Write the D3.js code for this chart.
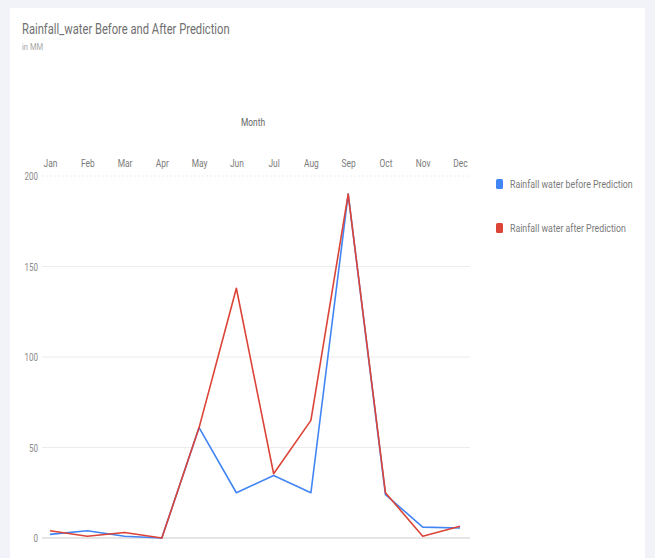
<!DOCTYPE html>
<html>
<head>
<meta charset="utf-8">
<script src="https://cdn.jsdelivr.net/npm/d3@7"></script>
<style>
  html, body { margin: 0; padding: 0; background: #f2f3f8; }
  svg { display: block; }
  text { font-family: Roboto, "Noto Sans", sans-serif; }
</style>
</head>
<body>
<svg id="chart" width="655" height="558"></svg>
<script>
// Monthly rainfall (mm) before and after prediction
const months = ["Jan","Feb","Mar","Apr","May","Jun","Jul","Aug","Sep","Oct","Nov","Dec"];
const beforePrediction = [2, 4, 1, 0, 61, 25, 34.5, 25, 190, 24, 6, 5.5];
const afterPrediction  = [4, 1, 3, 0, 61, 138, 35.5, 65, 190, 25, 1, 6.5];
const yTicks = [0, 50, 100, 150, 200];
const seriesNames = ["Rainfall water before Prediction", "Rainfall water after Prediction"];
const seriesColors = ["#4285f4", "#db4437"];

const svg = d3.select("#chart");

// white card
svg.append("rect").attr("x", 10).attr("y", 8).attr("width", 635).attr("height", 550).attr("fill", "#ffffff");

// narrow (condensed) text helper
function narrowText(g, x, y, str, size, color, anchor, sx) {
  return g.append("text")
    .attr("transform", `translate(${x},${y}) scale(${sx},1)`)
    .attr("text-anchor", anchor || "start")
    .attr("font-size", size)
    .attr("fill", color)
    .text(str);
}

narrowText(svg, 22, 34, "Rainfall_water Before and After Prediction", 14, "#707070", "start", 0.8);
narrowText(svg, 22, 50, "in MM", 9.5, "#a8a8a8", "start", 0.8);

const x = d3.scalePoint().domain(months).range([50, 460]);
const y = d3.scaleLinear().domain([0, 200]).range([538, 176]);
const left = 42, right = 470;

// gridlines
const grid = svg.append("g");
grid.selectAll("line").data(yTicks).join("line")
  .attr("x1", left).attr("x2", right)
  .attr("y1", d => y(d)).attr("y2", d => y(d))
  .attr("stroke", d => d === 0 ? "#dcdcdc" : "#ececec")
  .attr("stroke-width", d => d === 0 ? 1.5 : 1)
  .attr("stroke-dasharray", d => d === 200 ? "2,2" : null);

// y axis labels
const yAxis = d3.axisLeft(y).tickValues(yTicks).tickSize(0).tickPadding(0);
const yg = svg.append("g").attr("transform", `translate(${left - 4},0)`).call(yAxis);
yg.select(".domain").remove();
yg.selectAll("text")
  .attr("font-size", 10).attr("fill", "#8a8a8a")
  .attr("font-family", "Roboto, sans-serif")
  .attr("transform", "scale(0.8,1)")
  .attr("x", 0)
  .attr("dy", "0.35em");

// month axis at top
const xAxis = d3.axisTop(x).tickSize(0).tickPadding(0);
const xg = svg.append("g").attr("transform", "translate(0,167)").call(xAxis);
xg.select(".domain").remove();
xg.selectAll(".tick text")
  .attr("font-size", 10.5).attr("fill", "#7a7a7a")
  .attr("font-family", "Roboto, sans-serif")
  .attr("transform", "scale(0.8,1)")
  .attr("x", 0);

narrowText(svg, 253, 126, "Month", 10.5, "#666666", "middle", 0.8);

// lines
const line = d3.line().x((d, i) => x(months[i])).y(d => y(d));
[beforePrediction, afterPrediction].forEach((vals, k) => {
  svg.append("path")
    .datum(vals)
    .attr("d", line)
    .attr("fill", "none")
    .attr("stroke", seriesColors[k])
    .attr("stroke-width", 1.6)
    .attr("stroke-linejoin", "round");
});

// legend
const legend = svg.append("g");
seriesNames.forEach((name, k) => {
  const ly = 184 + k * 44;
  legend.append("rect")
    .attr("x", 496).attr("y", ly - 5).attr("width", 7).attr("height", 10).attr("rx", 1.5)
    .attr("fill", seriesColors[k]);
  narrowText(legend, 510, ly + 4, name, 11, "#7a7a7a", "start", 0.8);
});
</script>
</body>
</html>
